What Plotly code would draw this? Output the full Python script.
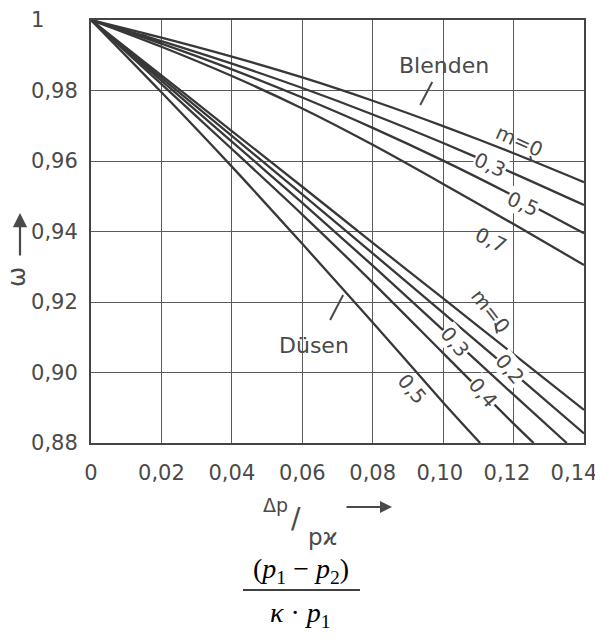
import plotly.graph_objects as go

# ---------------- data ----------------
# Blenden (orifices): epsilon vs dp/(p*kappa)
bl_x = [0, 0.02, 0.04, 0.06, 0.08, 0.10, 0.12, 0.14]
bl_m0 = [1.0, 0.9950, 0.9896, 0.9837, 0.9771, 0.9699, 0.9622, 0.9540]
bl_m03 = [1.0, 0.9940, 0.9876, 0.9807, 0.9732, 0.9651, 0.9565, 0.9475]
bl_m05 = [1.0, 0.9933, 0.9860, 0.9780, 0.9694, 0.9601, 0.9501, 0.9395]
bl_m07 = [1.0, 0.9924, 0.9841, 0.9749, 0.9646, 0.9535, 0.9421, 0.9305]

# Duesen (nozzles)
du_x = [0, 0.02, 0.04, 0.06, 0.08, 0.10, 0.12, 0.14]
du_m0 = [1.0, 0.9843, 0.9685, 0.9527, 0.9368, 0.9210, 0.9052, 0.8894]
du_m02 = [1.0, 0.9836, 0.9671, 0.9505, 0.9338, 0.9169, 0.8999, 0.8827]
du_m03_x = [0, 0.02, 0.04, 0.06, 0.08, 0.10, 0.12, 0.1351]
du_m03 = [1.0, 0.9828, 0.9655, 0.9481, 0.9303, 0.9120, 0.8937, 0.8800]
du_m04_x = [0, 0.02, 0.04, 0.06, 0.08, 0.10, 0.12, 0.1257]
du_m04 = [1.0, 0.9818, 0.9634, 0.9448, 0.9255, 0.9055, 0.8855, 0.8800]
du_m05_x = [0, 0.02, 0.04, 0.06, 0.08, 0.10, 0.1105]
du_m05 = [1.0, 0.9795, 0.9584, 0.9365, 0.9142, 0.8915, 0.8800]

# short marker strokes near the origin
seg_bl_x = [0.0145, 0.0201]
seg_bl_y = [0.9957, 0.9934]
seg_du_x = [0.0120, 0.0186]
seg_du_y = [0.9896, 0.9844]

NB = "\u00a0"
xtick_vals = [0, 0.02, 0.04, 0.06, 0.08, 0.10, 0.12, 0.14]
xtick_text = ["0", "0,02", "0,04", "0,06", "0,08", "0,10" + NB, "0,12" + NB * 2, "0,14" + NB * 3]
ytick_vals = [0.88, 0.90, 0.92, 0.94, 0.96, 0.98, 1.0]
ytick_text = ["0,88", "0,90", "0,92", "0,94", "0,96", "0,98", "1" + NB * 5]

# curve labels: (text, x, y, angle, white background)
curve_labels = [
    ("m=0", 0.1216, 0.9657, 24, False),
    ("0,3", 0.1134, 0.9589, 24, True),
    ("0,5", 0.1227, 0.9478, 24, True),
    ("0,7", 0.1136, 0.9376, 26, False),
    ("m=0", 0.1134, 0.9174, 52, False),
    ("0,2", 0.1190, 0.9010, 50, True),
    ("0,3", 0.1034, 0.9087, 50, True),
    ("0,4", 0.1114, 0.8942, 50, True),
    ("0,5", 0.0912, 0.8953, 50, False),
]
group_labels = [("Blenden", 0.1003, 0.9870), ("Düsen", 0.0634, 0.9078)]
leaders = [
    (0.0969, 0.9824, 0.0935, 0.9759),
    (0.0716, 0.9220, 0.0679, 0.9149),
    (0.1247, 0.9614, 0.1252, 0.9597),
    (0.1148, 0.9140, 0.1153, 0.9111),
]

# ---------------- figure ----------------
LINE = "#383838"
GRID = "#5a5a5a"
TXT = "#4a4a4a"
FONT = "DejaVu Sans"

fig = go.Figure()
series = [
    (bl_x, bl_m0), (bl_x, bl_m03), (bl_x, bl_m05), (bl_x, bl_m07),
    (du_x, du_m0), (du_x, du_m02), (du_m03_x, du_m03), (du_m04_x, du_m04),
    (du_m05_x, du_m05),
]
for xs, ys in series:
    fig.add_trace(go.Scatter(x=xs, y=ys, mode="lines",
                             line=dict(color=LINE, width=2.3, shape="spline", smoothing=0.8),
                             showlegend=False, hoverinfo="skip"))
for xs, ys in [(seg_bl_x, seg_bl_y), (seg_du_x, seg_du_y)]:
    fig.add_trace(go.Scatter(x=xs, y=ys, mode="lines",
                             line=dict(color=LINE, width=3),
                             showlegend=False, hoverinfo="skip"))

W, H = 595, 639
L, R, T, B = 91, 11, 20, 196
PW, PH = W - L - R, H - T - B


def pxx(v):
    return (v - L) / PW


def pxy(v):
    return (H - B - v) / PH


def paper_text(xp, yp, text, size, family=FONT, color=TXT, angle=0):
    return dict(x=pxx(xp), y=pxy(yp), xref="paper", yref="paper", text=text,
                xanchor="center", yanchor="middle", showarrow=False, textangle=angle,
                font=dict(family=family, size=size, color=color))


annotations = []
for text, x, y, ang, bg in curve_labels:
    annotations.append(dict(x=x, y=y, xref="x", yref="y", text=text, showarrow=False,
                            xanchor="center", yanchor="middle",
                            textangle=ang, font=dict(family=FONT, size=20, color=TXT),
                            bgcolor="white" if bg else None, borderpad=0))
for text, x, y in group_labels:
    annotations.append(dict(x=x, y=y, xref="x", yref="y", text=text, showarrow=False,
                            xanchor="center", yanchor="middle",
                            font=dict(family=FONT, size=22, color=TXT)))

# y-axis title: omega with arrow
annotations.append(paper_text(17, 277, "ω", 24, angle=-90))
annotations.append(dict(x=pxx(20), y=pxy(213), xref="paper", yref="paper", text="",
                        showarrow=True, ax=0, ay=44, arrowhead=2, arrowsize=1.3,
                        arrowwidth=2.2, arrowcolor=TXT))
# x-axis title
annotations.append(paper_text(275, 505, "Δp", 19))
annotations.append(paper_text(296, 518, "/", 28))
annotations.append(paper_text(323, 537, "pϰ", 23))
annotations.append(dict(x=pxx(392), y=pxy(507), xref="paper", yref="paper", text="",
                        showarrow=True, ax=-47, ay=0, arrowhead=2, arrowsize=1.2,
                        arrowwidth=2, arrowcolor=TXT))
# formula below
annotations.append(paper_text(301, 570, "(<i>p</i><sub>1</sub> − <i>p</i><sub>2</sub>)", 28,
                              family="Liberation Serif", color="black"))
annotations.append(paper_text(300, 614, "<i>κ</i> · <i>p</i><sub>1</sub>", 28,
                              family="Liberation Serif", color="black"))

shapes = []
for x0, y0, x1, y1 in leaders:
    shapes.append(dict(type="line", xref="x", yref="y", x0=x0, y0=y0, x1=x1, y1=y1,
                       line=dict(color=TXT, width=2)))
shapes.append(dict(type="line", xref="paper", yref="paper", x0=pxx(243), x1=pxx(360),
                   y0=pxy(590), y1=pxy(590), line=dict(color="black", width=1.5)))

fig.update_layout(
    width=W, height=H,
    margin=dict(l=L, r=R, t=T, b=B, autoexpand=False),
    paper_bgcolor="white", plot_bgcolor="white",
    annotations=annotations, shapes=shapes,
    xaxis=dict(range=[0, 0.14], tickvals=xtick_vals, ticktext=xtick_text,
               automargin=False, ticklabeloverflow="allow",
               showgrid=True, gridcolor=GRID, gridwidth=1.3, zeroline=False,
               showline=True, mirror=True, linecolor="#444", linewidth=2,
               ticks="", ticklabelstandoff=10,
               tickfont=dict(family=FONT, size=21, color=TXT)),
    yaxis=dict(range=[0.88, 1.0], tickvals=ytick_vals, ticktext=ytick_text,
               automargin=False, ticklabeloverflow="allow",
               showgrid=True, gridcolor=GRID, gridwidth=1.3, zeroline=False,
               showline=True, mirror=True, linecolor="#444", linewidth=2,
               ticks="", ticklabelstandoff=7,
               tickfont=dict(family=FONT, size=21, color=TXT)),
)

fig.write_html("out.html", config={"displayModeBar": False},
               post_script="document.body.style.margin='0px';")
